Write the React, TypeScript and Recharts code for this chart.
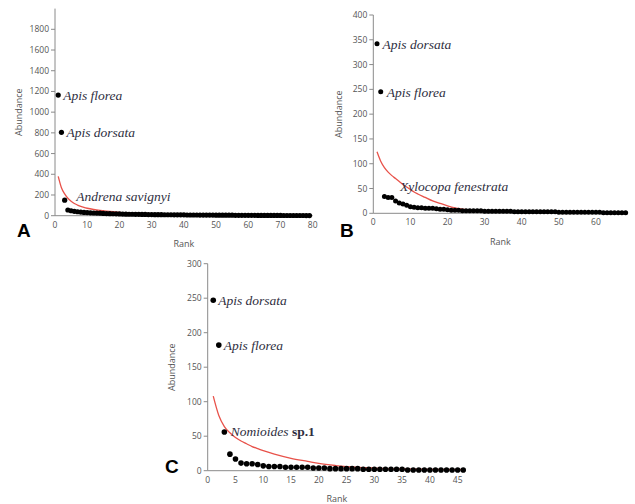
import { ComposedChart, Line, Scatter, XAxis, YAxis, ReferenceDot } from "recharts";

// Panel A
const abundanceA = [
  1165, 805, 150, 55, 48, 42, 38, 35, 32, 30,
  28, 26, 25, 24, 22, 21, 20, 19, 18, 17,
  16, 15, 14, 14, 13, 13, 12, 12, 11, 11,
  10, 10, 10, 9, 9, 9, 8, 8, 8, 8,
  7, 7, 7, 7, 6, 6, 6, 6, 6, 5,
  5, 5, 5, 5, 5, 4, 4, 4, 4, 4,
  4, 4, 3, 3, 3, 3, 3, 3, 3, 3,
  2, 2, 2, 2, 2, 2, 2, 1, 1,
];
const fitRanksA = [1, 2, 3, 4, 5, 6, 7, 8, 9, 10, 12, 14, 16, 18, 20, 25, 30, 35, 40, 50, 60, 70, 79];
const fitA = [380, 270, 210, 168, 140, 118, 103, 90, 80, 72, 60, 51, 44, 38, 33, 25, 19, 15, 12, 8, 6, 4, 3];
const xTicksA = [0, 10, 20, 30, 40, 50, 60, 70, 80];
const yTicksA = [0, 200, 400, 600, 800, 1000, 1200, 1400, 1600, 1800];
const speciesA = [
  { rank: 1, name: "Apis florea" },
  { rank: 2, name: "Apis dorsata" },
  { rank: 3, name: "Andrena savignyi" },
];

// Panel B
const abundanceB = [
  342, 245, 34, 32, 32, 25, 21, 19, 16, 13,
  12, 11, 11, 10, 10, 10, 9, 8, 8, 7,
  6, 6, 6, 5, 5, 5, 5, 5, 5, 4,
  4, 4, 4, 4, 4, 4, 4, 3, 3, 3,
  3, 3, 3, 3, 3, 3, 3, 3, 3, 2,
  2, 2, 2, 2, 2, 2, 2, 2, 2, 2,
  2, 1, 1, 1, 1, 1, 1, 1,
];
const fitRanksB = [1, 2, 3, 4, 5, 6, 7, 8, 9, 10, 11, 12, 14, 16, 18, 20, 22, 24, 26, 28, 30, 35, 40, 50, 60, 68];
const fitB = [124, 105, 92, 83, 76, 70, 64, 58, 53, 48, 43, 39, 32, 25, 20, 15, 11, 8.5, 6.5, 5, 4.5, 3.5, 3, 2, 1.5, 1];
const xTicksB = [0, 10, 20, 30, 40, 50, 60];
const yTicksB = [0, 50, 100, 150, 200, 250, 300, 350, 400];
const speciesB = [
  { rank: 1, name: "Apis dorsata" },
  { rank: 2, name: "Apis florea" },
  { rank: 3, name: "Xylocopa fenestrata" },
];

// Panel C
const abundanceC = [
  247, 182, 56, 24, 17, 11, 10, 10, 9, 7,
  6, 6, 6, 5, 5, 5, 5, 5, 4, 4,
  4, 3, 3, 3, 3, 3, 3, 2, 2, 2,
  2, 2, 2, 2, 2, 1, 1, 1, 1, 1,
  1, 1, 1, 1, 1, 1,
];
const fitRanksC = [1, 2, 3, 4, 5, 6, 7, 8, 9, 10, 12, 15, 18, 20, 23, 25, 30, 35, 40, 46];
const fitC = [108, 80, 64, 55, 48, 43, 39, 35, 32, 29, 24, 18, 13.5, 10.5, 7.5, 6, 3.8, 2.6, 2, 1.5];
const xTicksC = [0, 5, 10, 15, 20, 25, 30, 35, 40, 45];
const yTicksC = [0, 50, 100, 150, 200, 250, 300];
const speciesC = [
  { rank: 1, name: "Apis dorsata" },
  { rank: 2, name: "Apis florea" },
  { rank: 3, name: "Nomioides", suffix: " sp.1" },
];

const AXIS = "#8a8a8a";
const TICK = { fontSize: 8.5, fill: "#555", fontFamily: "'Open Sans', sans-serif" };
const LABEL_INK = "#2e2e3e";

type Species = { rank: number; name: string; suffix?: string };

function RankPanel(p: {
  left: number;
  top: number;
  width: number;
  height: number;
  margin: { top: number; right: number };
  yAxisWidth: number;
  xAxisHeight: number;
  abundance: number[];
  fitRanks: number[];
  fit: number[];
  xTicks: number[];
  yTicks: number[];
  xMax: number;
  yMax: number;
  species: Species[];
  offsets: [number, number][];
  dotR: number;
  titleX: number;
  letter: string;
  letterPos: { left: number; top: number };
}) {
  const dots = p.abundance.map((v, i) => ({ rank: i + 1, value: v }));
  const curve = p.fitRanks.map((r, i) => ({ rank: r, value: p.fit[i] }));

  return (
    <div style={{ position: "absolute", left: p.left, top: p.top, width: p.width, height: p.height }}>
      <ComposedChart
        width={p.width}
        height={p.height}
        margin={{ top: p.margin.top, right: p.margin.right, left: 0, bottom: 0 }}
      >
        <XAxis
          type="number"
          dataKey="rank"
          domain={[0, p.xMax]}
          ticks={p.xTicks}
          height={p.xAxisHeight}
          stroke={AXIS}
          tickLine={false}
          tickSize={4}
          tickMargin={2}
          tick={TICK}
          label={{
            content: ({ viewBox }: any) => (
              <text
                x={viewBox.x + viewBox.width / 2}
                y={viewBox.y + 28}
                textAnchor="middle"
                dominantBaseline="central"
                fontSize={9}
                fill="#555"
                fontFamily="'Open Sans', sans-serif"
              >
                Rank
              </text>
            ),
          }}
        />
        <YAxis
          type="number"
          domain={[0, p.yMax]}
          ticks={p.yTicks}
          width={p.yAxisWidth}
          stroke={AXIS}
          tickSize={4}
          tickMargin={2}
          tick={TICK}
          label={{
            content: ({ viewBox }: any) => {
              const cx = p.titleX;
              const cy = viewBox.y + viewBox.height / 2;
              return (
                <text
                  x={cx}
                  y={cy}
                  transform={`rotate(-90 ${cx} ${cy})`}
                  textAnchor="middle"
                  dominantBaseline="central"
                  fontSize={9}
                  fill="#555"
                  fontFamily="'Open Sans', sans-serif"
                >
                  Abundance
                </text>
              );
            },
          }}
        />
        <Line
          data={curve}
          dataKey="value"
          type="monotone"
          stroke="#e8524a"
          strokeWidth={1.3}
          dot={false}
          isAnimationActive={false}
        />
        <Scatter
          data={dots}
          dataKey="value"
          isAnimationActive={false}
          shape={(s: any) => <circle cx={s.cx} cy={s.cy} r={p.dotR} fill="#000" />}
        />
        {p.species.map((sp, i) => (
          <ReferenceDot
            key={sp.name}
            x={sp.rank}
            y={p.abundance[sp.rank - 1]}
            r={0.01}
            fill="none"
            stroke="none"
            label={{
              content: ({ viewBox }: any) => (
                <text
                  x={viewBox.x + p.offsets[i][0]}
                  y={viewBox.y + p.offsets[i][1]}
                  dominantBaseline="central"
                  fontFamily="'Liberation Serif', 'Times New Roman', serif"
                  fontSize={13.5}
                  fill={LABEL_INK}
                >
                  <tspan fontStyle="italic">{sp.name}</tspan>
                  {sp.suffix && <tspan fontWeight="bold">{sp.suffix}</tspan>}
                </text>
              ),
            }}
          />
        ))}
      </ComposedChart>
      <div
        style={{
          position: "absolute",
          left: p.letterPos.left,
          top: p.letterPos.top,
          fontFamily: "'Liberation Sans', Arial, sans-serif",
          fontWeight: "bold",
          fontSize: 19,
          lineHeight: 1,
          color: "#000",
        }}
      >
        {p.letter}
      </div>
    </div>
  );
}

export default function App() {
  return (
    <div style={{ position: "absolute", left: 0, top: 0, width: 635, height: 504, background: "#fff" }}>
      <RankPanel
        left={0}
        top={0}
        width={320}
        height={250}
        margin={{ top: 8.6, right: 7.3 }}
        yAxisWidth={55}
        xAxisHeight={34.3}
        abundance={abundanceA}
        fitRanks={fitRanksA}
        fit={fitA}
        xTicks={xTicksA}
        yTicks={yTicksA}
        xMax={80}
        yMax={2000}
        species={speciesA}
        offsets={[[5, 0], [5, 0], [11.5, -4]]}
        dotR={2.6}
        titleX={18.3}
        letter="A"
        letterPos={{ left: 17, top: 221 }}
      />
      <RankPanel
        left={320}
        top={0}
        width={315}
        height={250}
        margin={{ top: 15, right: 7.5 }}
        yAxisWidth={53.3}
        xAxisHeight={36.7}
        abundance={abundanceB}
        fitRanks={fitRanksB}
        fit={fitB}
        xTicks={xTicksB}
        yTicks={yTicksB}
        xMax={68.5}
        yMax={400}
        species={speciesB}
        offsets={[[5.5, 0], [6, 0], [15.5, -10]]}
        dotR={2.5}
        titleX={19}
        letter="B"
        letterPos={{ left: 20, top: 221 }}
      />
      <RankPanel
        left={150}
        top={250}
        width={320}
        height={254}
        margin={{ top: 13.7, right: 4 }}
        yAxisWidth={57.7}
        xAxisHeight={33.3}
        abundance={abundanceC}
        fitRanks={fitRanksC}
        fit={fitC}
        xTicks={xTicksC}
        yTicks={yTicksC}
        xMax={46.5}
        yMax={300}
        species={speciesC}
        offsets={[[5, 0], [5, 0], [6.5, -1]]}
        dotR={2.8}
        titleX={21.7}
        letter="C"
        letterPos={{ left: 15, top: 207 }}
      />
    </div>
  );
}
